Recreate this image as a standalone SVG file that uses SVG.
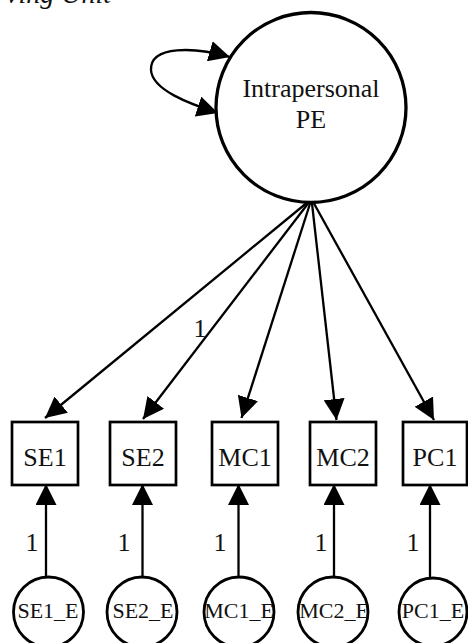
<svg xmlns="http://www.w3.org/2000/svg" width="468" height="643" viewBox="0 0 468 643">
<defs>
<marker id="ah" viewBox="0 0 21 21" refX="21" refY="10.5" markerWidth="21" markerHeight="21" markerUnits="userSpaceOnUse" orient="auto-start-reverse">
<path d="M0,0 L21,10.5 L0,21 z" fill="#000"/>
</marker>
<style>
text{font-family:"Liberation Serif","Times New Roman",serif;fill:#111;}
.lbl{font-size:26px;text-anchor:middle;}
.elbl{font-size:22px;text-anchor:middle;}
.box{fill:#fff;stroke:#000;stroke-width:2.7;}
.lat{fill:#fff;stroke:#000;stroke-width:3.3;}
.err{fill:#fff;stroke:#000;stroke-width:2.8;}
.edge{fill:none;stroke:#000;stroke-width:2.3;marker-end:url(#ah);}
</style>
</defs>
<rect width="468" height="643" fill="#fff"/>
<text x="6" y="3" style="font-size:28px;font-style:italic;">ving Unit</text>
<g id="connectors">
<path class="edge" d="M230,57 C195,47 150,45 151,70 C152,90 190,104 218,113" style="marker-start:url(#ah)"/>
<line class="edge" x1="311.5" y1="199" x2="45" y2="418"/>
<line class="edge" x1="311.5" y1="199" x2="143" y2="419"/>
<line class="edge" x1="311.5" y1="199" x2="241.5" y2="418"/>
<line class="edge" x1="311.5" y1="199" x2="336.5" y2="420"/>
<line class="edge" x1="311.5" y1="199" x2="434" y2="420"/>
<line class="edge" x1="46" y1="577" x2="46" y2="484"/>
<line class="edge" x1="142.5" y1="577" x2="142.5" y2="484"/>
<line class="edge" x1="238.5" y1="577" x2="238.5" y2="484"/>
<line class="edge" x1="334" y1="577" x2="334" y2="484"/>
<line class="edge" x1="430" y1="577" x2="430" y2="484"/>
<text class="lbl" x="200" y="337">1</text>
<text class="lbl" x="32" y="551">1</text>
<text class="lbl" x="124" y="551">1</text>
<text class="lbl" x="220" y="551">1</text>
<text class="lbl" x="321" y="551">1</text>
<text class="lbl" x="413" y="551">1</text>
</g>
<g id="n_PE">
<circle class="lat" cx="311" cy="107.5" r="95"/>
<text class="lbl" x="311" y="97">Intrapersonal</text>
<text class="lbl" x="311" y="128">PE</text>
</g>
<g id="n_SE1"><rect class="box" x="12" y="422" width="66" height="63"/><text class="lbl" x="45" y="466">SE1</text></g>
<g id="n_SE2"><rect class="box" x="110" y="422" width="66" height="63"/><text class="lbl" x="143" y="466">SE2</text></g>
<g id="n_MC1"><rect class="box" x="212" y="422" width="66" height="63"/><text class="lbl" x="245" y="466">MC1</text></g>
<g id="n_MC2"><rect class="box" x="310" y="422" width="66" height="63"/><text class="lbl" x="343" y="466">MC2</text></g>
<g id="n_PC1"><rect class="box" x="403" y="422" width="64" height="63"/><text class="lbl" x="435" y="466">PC1</text></g>
<g id="n_SE1_E"><circle class="err" cx="48.5" cy="612" r="35"/><text class="elbl" x="48" y="618">SE1_E</text></g>
<g id="n_SE2_E"><circle class="err" cx="142" cy="612" r="35"/><text class="elbl" x="143" y="618">SE2_E</text></g>
<g id="n_MC1_E"><circle class="err" cx="239" cy="612" r="35"/><text class="elbl" x="239" y="618">MC1_E</text></g>
<g id="n_MC2_E"><circle class="err" cx="333" cy="612" r="35"/><text class="elbl" x="334" y="618">MC2_E</text></g>
<g id="n_PC1_E"><circle class="err" cx="433" cy="612" r="34"/><text class="elbl" x="433" y="618">PC1_E</text></g>
</svg>
